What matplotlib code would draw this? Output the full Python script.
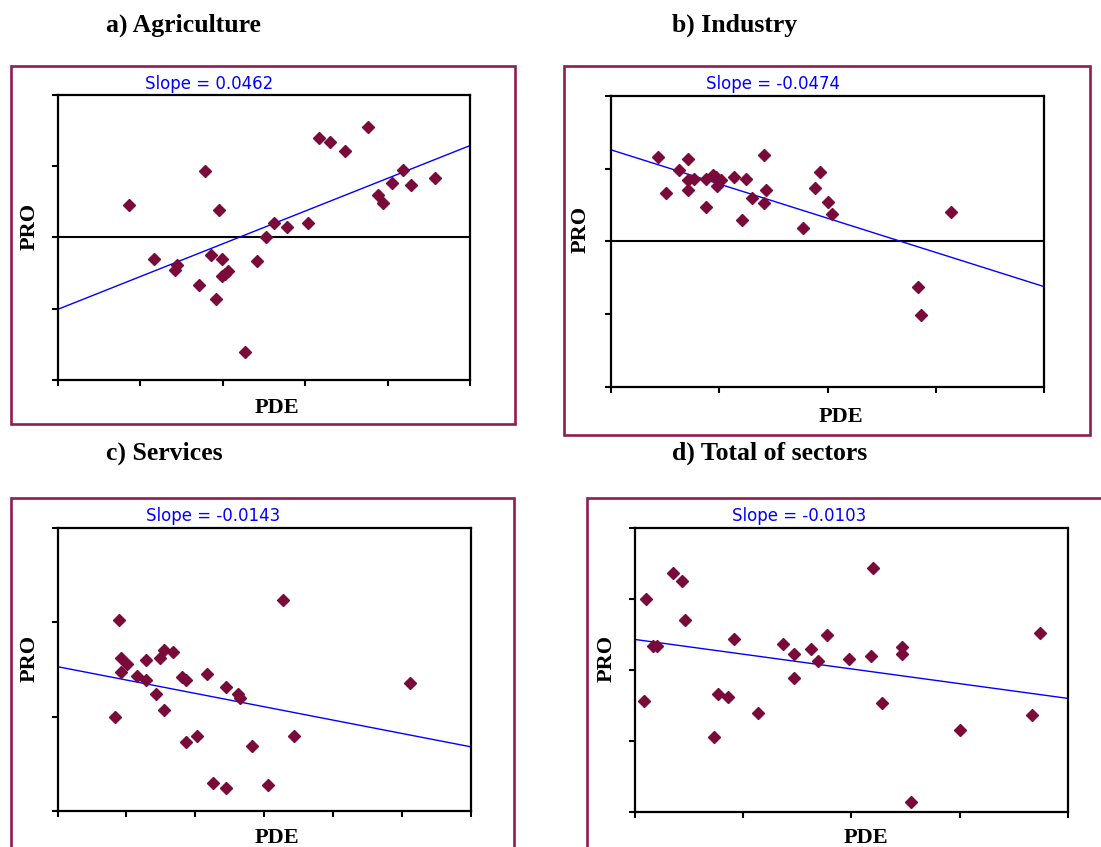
import matplotlib.pyplot as plt
from matplotlib.patches import Rectangle

W, H = 1101, 847

# a) Agriculture
agr_pde = [0.87, 1.17, 1.43, 1.45, 1.71, 1.79, 1.86, 1.92, 1.96, 1.99, 1.99, 2.03, 2.07,
           2.27, 2.42, 2.53, 2.63, 2.78, 3.04, 3.17, 3.30, 3.48, 3.76, 3.88, 3.94, 4.06,
           4.19, 4.29, 4.57]
agr_pro = [0.45, -0.30, -0.45, -0.39, -0.66, 0.93, -0.24, -0.86, 0.39, -0.30, -0.54, -0.51,
           -0.47, -1.61, -0.33, 0.00, 0.20, 0.15, 0.21, 1.40, 1.34, 1.22, 1.55, 0.60, 0.48,
           0.77, 0.95, 0.74, 0.84]
agr_trend = [-1.01, 1.29]

# b) Industry
ind_pde = [0.43, 0.51, 0.63, 0.71, 0.71, 0.71, 0.77, 0.88, 0.88, 0.94, 0.97, 0.98, 1.02,
           1.14, 1.21, 1.25, 1.30, 1.41, 1.41, 1.43, 1.77, 1.88, 1.93, 2.00, 2.04, 2.84,
           2.86, 3.14]
ind_pro = [1.16, 0.66, 0.98, 1.13, 0.85, 0.71, 0.86, 0.86, 0.48, 0.92, 0.89, 0.76, 0.85,
           0.89, 0.30, 0.86, 0.60, 1.19, 0.53, 0.71, 0.18, 0.74, 0.95, 0.54, 0.38, -0.62,
           -1.01, 0.41]
ind_trend = [1.26, -0.62]

# c) Services
ser_pde = [0.89, 0.83, 0.92, 0.92, 1.01, 1.15, 1.28, 1.28, 1.43, 1.49, 1.55, 1.55, 1.68,
           1.81, 1.87, 1.87, 2.02, 2.17, 2.26, 2.45, 2.45, 2.62, 2.65, 2.82, 3.05, 3.27,
           3.43, 5.11]
ser_pro = [2.02, 1.00, 1.62, 1.47, 1.56, 1.43, 1.60, 1.39, 1.24, 1.62, 1.71, 1.07, 1.69,
           1.42, 1.39, 0.73, 0.79, 1.45, 0.30, 1.31, 0.24, 1.24, 1.20, 0.69, 0.28, 2.24,
           0.80, 1.36]
ser_trend = [1.53, 0.68]

# d) Total of sectors
tot_pde = [0.08, 0.10, 0.17, 0.20, 0.35, 0.43, 0.46, 0.73, 0.77, 0.86, 0.91, 1.14, 1.37,
           1.47, 1.47, 1.63, 1.69, 1.77, 1.98, 2.18, 2.20, 2.28, 2.47, 2.47, 2.55, 3.00,
           3.67, 3.74]
tot_pro = [1.56, 3.00, 2.34, 2.34, 3.36, 3.26, 2.70, 1.06, 1.66, 1.62, 2.43, 1.39, 2.37,
           2.22, 1.89, 2.29, 2.13, 2.49, 2.16, 2.20, 3.44, 1.54, 2.32, 2.22, 0.14, 1.15,
           1.36, 2.52]
tot_trend = [2.43, 1.60]

panels = [
    # title, x, y, trend, slope, xmax, ymin, ymax, zero line
    ("a) Agriculture", agr_pde, agr_pro, agr_trend, "0.0462", 5, -2, 2, True),
    ("b) Industry", ind_pde, ind_pro, ind_trend, "-0.0474", 4, -2, 2, True),
    ("c) Services", ser_pde, ser_pro, ser_trend, "-0.0143", 6, 0, 3, False),
    ("d) Total of sectors", tot_pde, tot_pro, tot_trend, "-0.0103", 4, 0, 4, False),
]

# pixel boxes: plot area (l, r, t, b), frame (l, r, t, b), title pos, slope pos, PRO pos, PDE pos
boxes = [
    ((57.5, 470, 95, 380), (11, 515, 66, 424), (106, 32), (209, 84), (30, 226), (277, 408)),
    ((611, 1044, 96, 387), (564, 1090, 66, 435), (672, 32), (773, 84), (581, 229), (841, 417)),
    ((57.5, 471, 528, 811), (11, 514, 498, 900), (106, 460), (213, 516), (30, 658), (277, 838)),
    ((635, 1068, 528, 812), (587, 1150, 498, 900), (672, 460), (799, 516), (607, 658), (866, 838)),
]

frame_col = "#8b1e52"
dot_col = "#7a0a3a"
serif = "Liberation Serif"

fig = plt.figure(figsize=(W / 100, H / 100), dpi=100)


def fx(px):
    return px / W


def fy(py):
    return 1 - py / H


for (title, xs, ys, trend, slope, xmax, ymin, ymax, zero), box in zip(panels, boxes):
    (l, r, t, b), (fl, fr, ft, fb), tpos, spos, ppos, dpos = box

    fig.patches.append(Rectangle((fx(fl), fy(fb)), fx(fr - fl), (fb - ft) / H,
                                 transform=fig.transFigure, fill=False,
                                 edgecolor=frame_col, linewidth=1.9))

    ax = fig.add_axes([fx(l), fy(b), fx(r - l), (b - t) / H])
    if zero:
        ax.axhline(0, color="black", linewidth=1.5, zorder=1)
    ax.plot([0, xmax], trend, color="#0000ff", linewidth=1.0, zorder=2)
    ax.plot(xs, ys, linestyle="none", marker="D", markersize=6,
            color=dot_col, zorder=3)
    ax.set_xlim(0, xmax)
    ax.set_ylim(ymin, ymax)
    ax.set_xticks(range(0, xmax + 1))
    ax.set_yticks(range(ymin, ymax + 1))
    ax.set_xticklabels([])
    ax.set_yticklabels([])
    ax.tick_params(direction="out", length=4, width=1.5, color="black")
    for sp in ax.spines.values():
        sp.set_linewidth(1.6)
        sp.set_color("black")

    fig.text(fx(tpos[0]), fy(tpos[1]), title, family=serif, weight="bold",
             fontsize=18.5, ha="left", va="baseline")
    fig.text(fx(spos[0]), fy(spos[1]), "Slope = " + slope, color="#0000ff",
             fontsize=12, ha="center", va="center")
    fig.text(fx(ppos[0]), fy(ppos[1]), "PRO", family=serif, weight="bold",
             fontsize=16, rotation=90, ha="center", va="center")
    fig.text(fx(dpos[0]), fy(dpos[1]), "PDE", family=serif, weight="bold",
             fontsize=16, ha="center", va="center")

fig.savefig("out.png", dpi=100)
